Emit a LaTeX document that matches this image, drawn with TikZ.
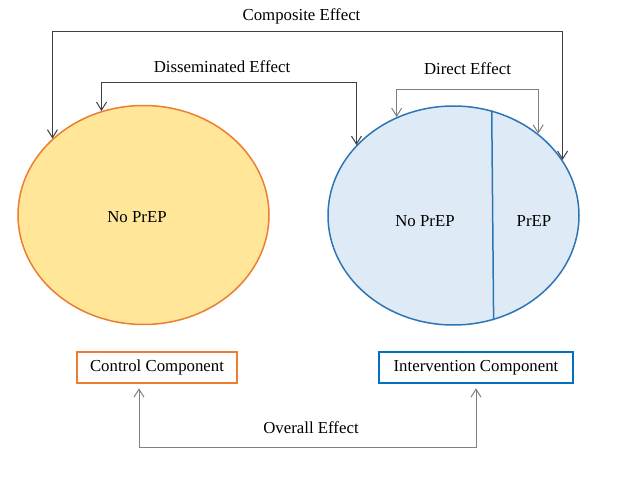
\documentclass[tikz,border=0pt]{standalone}
\usepackage{fontspec}
\setmainfont{Liberation Serif}
\usetikzlibrary{arrows.meta,shapes.geometric}
\definecolor{ctlfill}{HTML}{FFE699}
\definecolor{ctlline}{HTML}{ED7D31}
\definecolor{intfill}{HTML}{DEEBF7}
\definecolor{intline}{HTML}{2E75B6}
\definecolor{boxblue}{HTML}{0070C0}
\definecolor{darkln}{HTML}{404040}
\definecolor{lightln}{HTML}{808080}
\tikzset{
  txt/.style={font=\fontsize{16.8}{20}\selectfont, inner sep=0pt},
  oval/.style={ellipse, minimum width=251pt, minimum height=219pt, line width=1.5pt, inner sep=0pt},
  comp/.style={draw, line width=2.5pt, minimum height=31pt, inner sep=0pt, font=\fontsize{16.8}{20}\selectfont},
  bothway/.style={line width=1pt, {Straight Barb[length=8pt,width=10pt]}-{Straight Barb[length=8pt,width=10pt]}},
}
\begin{document}
\begin{tikzpicture}[x=1pt,y=-1pt]
\useasboundingbox (0,0) rectangle (633,479);
% ellipses
\node[oval, draw=ctlline, fill=ctlfill] (L) at (143.5,215) {};
\node[oval, draw=intline, fill=intfill] (R) at (453.5,215.5) {};
\draw[intline, line width=1.5pt] (R.70.8) -- (R.-69.5);
% texts inside
\node[txt] (lno) at (137,217) {No PrEP};
\node[txt] (rno) at (425,221) {No PrEP};
\node[txt] (rp) at (534,221) {PrEP};
% labels
\node[txt] (compL) at (301.5,16) {Composite Effect};
\node[txt] (dissL) at (222,67) {Disseminated Effect};
\node[txt] (dirL) at (467.5,69) {Direct Effect};
\coordinate (cT) at (0,31);
\coordinate (dT) at (0,82);
\coordinate (eT) at (0,89);
% connectors
\draw[bothway, darkln] (L.140.2) -- (L.140.2 |- cT) -- (R.27.7 |- cT) -- (R.27.7);
\draw[bothway, darkln] (L.112) -- (L.112 |- dT) -- (R.144 |- dT) -- (R.144);
\draw[bothway, lightln] (R.120) -- (R.120 |- eT) -- (R.44.4 |- eT) -- (R.44.4);
% component boxes
\node[comp, draw=ctlline, minimum width=160pt] (Ctl) at (157,367.5) {Control Component};
\node[comp, draw=boxblue, minimum width=194pt] (Int) at (476,367.5) {Intervention Component};
\node[txt] (ovL) at (311,428) {Overall Effect};
\coordinate (oA) at (139,447);
\coordinate (oB) at (476,447);
\draw[bothway, lightln, shorten <=4pt, shorten >=4pt] (Ctl.south -| oA) -- (oA) -- (oB) -- (Int.south -| oB);
\end{tikzpicture}
\end{document}
